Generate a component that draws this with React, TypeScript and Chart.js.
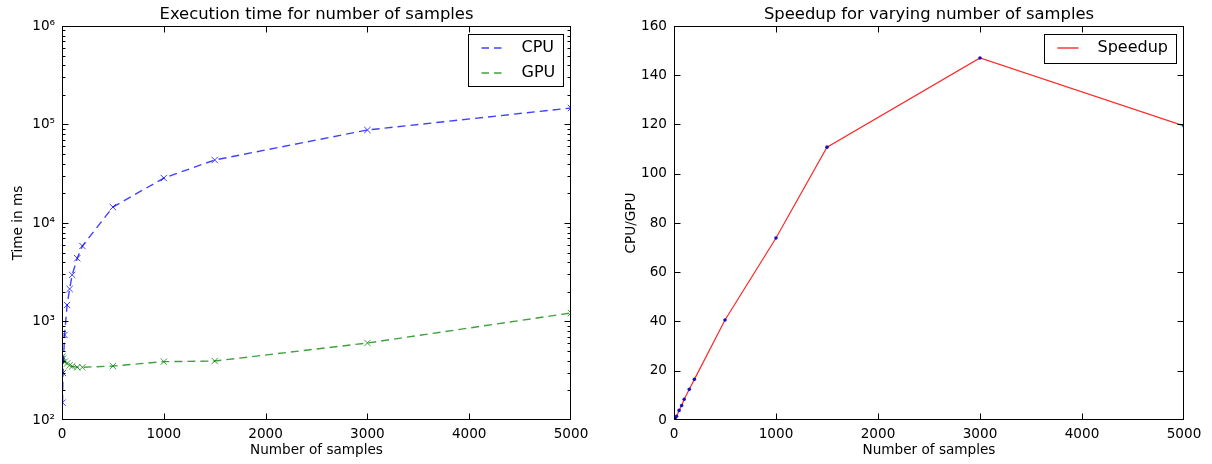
import React, { useEffect, useRef } from "react";
import { Chart, registerables } from "chart.js";

Chart.register(...registerables);

const FONT = "'DejaVu Sans', 'Liberation Sans', sans-serif";

// ---- data ----
const sampleCounts = [5, 10, 25, 50, 75, 100, 150, 200, 500, 1000, 1500, 3000, 5000];
const cpuTimesMs = [150, 300, 730, 1470, 2140, 2970, 4390, 5840, 14500, 28600, 43600, 87900, 147000];
const gpuTimesMs = [440, 420, 390, 375, 360, 350, 343, 343, 353, 391, 397, 605, 1220];
const speedups = [0.34, 0.7, 1.5, 3.9, 5.9, 8.4, 12.5, 16.5, 40.6, 73.9, 110.8, 147, 119.4];

const xTickValues = [0, 1000, 2000, 3000, 4000, 5000];
const timeTickValues = [1e2, 1e3, 1e4, 1e5, 1e6];
const speedupTickValues = [0, 20, 40, 60, 80, 100, 120, 140, 160];

const leftTitle = "Execution time for number of samples";
const rightTitle = "Speedup for varying number of samples";
const xLabel = "Number of samples";
const leftYLabel = "Time in ms";
const rightYLabel = "CPU/GPU";

const CPU_COLOR = "rgba(0,0,255,0.75)";
const GPU_COLOR = "rgba(0,128,0,0.75)";
const SPEED_COLOR = "rgba(255,0,0,0.85)";
const DOT_COLOR = "rgba(0,0,200,0.9)";
const DASH = [8, 5];

const SUP: Record<string, string> = {
  "0": "⁰", "1": "¹", "2": "²", "3": "³", "4": "⁴",
  "5": "⁵", "6": "⁶", "7": "⁷", "8": "⁸", "9": "⁹", "-": "⁻",
};
function pow10Label(v: number) {
  const e = Math.round(Math.log10(v));
  return "10" + String(e).split("").map((c) => SUP[c] || c).join("");
}

const toXY = (ys: number[]) => sampleCounts.map((x, i) => ({ x, y: ys[i] }));

const setTicks = (values: number[]) => (scale: any) => {
  scale.ticks = values.map((value) => ({ value }));
};

const framePlugin = {
  id: "mplFrame",
  afterDraw(chart: any, _args: any, opts: any) {
    const { ctx, chartArea: a, scales } = chart;
    const xs = scales.x;
    const ys = scales.y;
    ctx.save();
    ctx.strokeStyle = "#000";
    ctx.lineWidth = 1;
    const seg = (x1: number, y1: number, x2: number, y2: number) => {
      ctx.beginPath();
      ctx.moveTo(x1, y1);
      ctx.lineTo(x2, y2);
      ctx.stroke();
    };
    const L = Math.round(a.left) + 0.5;
    const R = Math.round(a.right) - 0.5;
    const T = Math.round(a.top) + 0.5;
    const B = Math.round(a.bottom) - 0.5;
    const clampX = (v: number) => Math.min(R, Math.max(L, Math.round(v) + 0.5));
    const clampY = (v: number) => Math.min(B, Math.max(T, Math.round(v) + 0.5));
    const MAJ = 6;
    const MIN = 3;
    xs.ticks.forEach((t: any) => {
      const px = clampX(xs.getPixelForValue(t.value));
      seg(px, B, px, B - MAJ);
      seg(px, T, px, T + MAJ);
    });
    ys.ticks.forEach((t: any) => {
      const py = clampY(ys.getPixelForValue(t.value));
      seg(L, py, L + MAJ, py);
      seg(R, py, R - MAJ, py);
    });
    if (ys.type === "logarithmic") {
      for (let e = 2; e < 6; e++) {
        for (let k = 2; k <= 9; k++) {
          const py = clampY(ys.getPixelForValue(k * Math.pow(10, e)));
          seg(L, py, L + MIN, py);
          seg(R, py, R - MIN, py);
        }
      }
    }
    ctx.strokeRect(L, T, R - L, B - T);

    // legend box (matplotlib style)
    const items = (opts && opts.legend) || [];
    if (items.length) {
      ctx.font = `16px ${FONT}`;
      const maxW = Math.max(...items.map((it: any) => ctx.measureText(it.label).width));
      const w = Math.round(53 + maxW + 8.5);
      const h = 29 + 23 * (items.length - 1);
      const bx = Math.round(a.right - 8 - w) + 0.5;
      const by = Math.round(a.top + 8) + 0.5;
      ctx.fillStyle = "#fff";
      ctx.fillRect(bx, by, w, h);
      ctx.strokeStyle = "#000";
      ctx.lineWidth = 1;
      ctx.setLineDash([]);
      ctx.strokeRect(bx, by, w, h);
      items.forEach((it: any, i: number) => {
        const cy = by + 13.5 + 24.5 * i;
        ctx.strokeStyle = it.color;
        ctx.lineWidth = 1.4;
        ctx.setLineDash(it.dash || []);
        ctx.beginPath();
        ctx.moveTo(bx + 13, Math.round(cy));
        ctx.lineTo(bx + 34, Math.round(cy));
        ctx.stroke();
        ctx.setLineDash([]);
        ctx.fillStyle = "#000";
        ctx.textAlign = "left";
        ctx.textBaseline = "middle";
        ctx.fillText(it.label, bx + 53, cy);
      });
    }
    ctx.restore();
  },
};

function baseOptions(opts: {
  title: string;
  yLabel: string;
  yType: string;
  yMin: number;
  yMax: number;
  yTicks: number[];
  yFmt: (v: number) => string;
  yAxisWidth: number;
  yTitlePad: number;
  rightPad: number;
  legend: any[];
}): any {
  return {
    animation: false,
    responsive: false,
    devicePixelRatio: 1,
    layout: { padding: { left: 0, right: opts.rightPad, top: 0, bottom: 0 } },
    plugins: {
      legend: { display: false },
      tooltip: { enabled: false },
      title: {
        display: true,
        text: opts.title,
        fullSize: false,
        color: "#000",
        font: { family: FONT, size: 16.4, weight: "normal" },
        padding: { top: 5, bottom: 1.3 },
      },
      mplFrame: { legend: opts.legend },
    },
    scales: {
      x: {
        type: "linear",
        min: 0,
        max: 5000,
        afterBuildTicks: setTicks(xTickValues),
        afterFit: (s: any) => {
          s.height = 44;
        },
        grid: { display: false, drawTicks: false },
        border: { display: false },
        ticks: {
          color: "#000",
          padding: 6,
          maxRotation: 0,
          autoSkip: false,
          font: { family: FONT, size: 13.6 },
          callback: (v: any) => String(v),
        },
        title: {
          display: true,
          text: xLabel,
          color: "#000",
          font: { family: FONT, size: 13.6 },
          padding: { top: 0, bottom: 5 },
        },
      },
      y: {
        type: opts.yType,
        min: opts.yMin,
        max: opts.yMax,
        afterBuildTicks: setTicks(opts.yTicks),
        afterFit: (s: any) => {
          s.width = opts.yAxisWidth;
        },
        grid: { display: false, drawTicks: false },
        border: { display: false },
        ticks: {
          color: "#000",
          padding: 7,
          autoSkip: false,
          font: { family: FONT, size: 13.6 },
          callback: (v: any) => opts.yFmt(Number(v)),
        },
        title: {
          display: true,
          text: opts.yLabel,
          color: "#000",
          font: { family: FONT, size: 13.6 },
          padding: { top: opts.yTitlePad, bottom: 0 },
        },
      },
    },
  };
}

function TimeChart() {
  const ref = useRef<HTMLCanvasElement | null>(null);
  useEffect(() => {
    if (!ref.current) return;
    const mk = (label: string, values: number[], color: string) => ({
      label,
      data: toXY(values),
      borderColor: color,
      backgroundColor: color,
      borderWidth: 1.4,
      borderDash: DASH,
      tension: 0,
      pointStyle: "crossRot",
      pointRadius: 4.5,
      pointBorderWidth: 1,
      pointBorderColor: color,
      fill: false,
    });
    const chart = new Chart(ref.current, {
      type: "line",
      data: {
        datasets: [mk("CPU", cpuTimesMs, CPU_COLOR), mk("GPU", gpuTimesMs, GPU_COLOR)],
      },
      options: baseOptions({
        title: leftTitle,
        yLabel: leftYLabel,
        yType: "logarithmic",
        yMin: 100,
        yMax: 1e6,
        yTicks: timeTickValues,
        yFmt: pow10Label,
        yAxisWidth: 62,
        yTitlePad: 10,
        rightPad: 35,
        legend: [
          { label: "CPU", color: CPU_COLOR, dash: [7.5, 5] },
          { label: "GPU", color: GPU_COLOR, dash: [7.5, 5] },
        ],
      }),
      plugins: [framePlugin],
    } as any);
    return () => chart.destroy();
  }, []);
  return (
    <canvas
      ref={ref}
      width={606}
      height={464}
      style={{ position: "absolute", left: 0, top: 0, width: 606, height: 464 }}
    />
  );
}

function SpeedupChart() {
  const ref = useRef<HTMLCanvasElement | null>(null);
  useEffect(() => {
    if (!ref.current) return;
    const chart = new Chart(ref.current, {
      type: "line",
      data: {
        datasets: [
          {
            label: "Speedup",
            data: toXY(speedups),
            borderColor: SPEED_COLOR,
            backgroundColor: DOT_COLOR,
            borderWidth: 1.2,
            tension: 0,
            pointStyle: "circle",
            pointRadius: 1.8,
            pointBorderWidth: 0,
            pointBackgroundColor: DOT_COLOR,
            pointBorderColor: DOT_COLOR,
            fill: false,
          },
        ],
      },
      options: baseOptions({
        title: rightTitle,
        yLabel: rightYLabel,
        yType: "linear",
        yMin: 0,
        yMax: 160,
        yTicks: speedupTickValues,
        yFmt: (v) => String(v),
        yAxisWidth: 68,
        yTitlePad: 17,
        rightPad: 28,
        legend: [{ label: "Speedup", color: SPEED_COLOR, dash: [] }],
      }),
      plugins: [framePlugin],
    } as any);
    return () => chart.destroy();
  }, []);
  return (
    <canvas
      ref={ref}
      width={606}
      height={464}
      style={{ position: "absolute", left: 606, top: 0, width: 606, height: 464 }}
    />
  );
}

export default function App() {
  return (
    <div
      style={{
        position: "absolute",
        left: 0,
        top: 0,
        width: 1212,
        height: 464,
        background: "#fff",
        overflow: "hidden",
      }}
    >
      <TimeChart />
      <SpeedupChart />
    </div>
  );
}
